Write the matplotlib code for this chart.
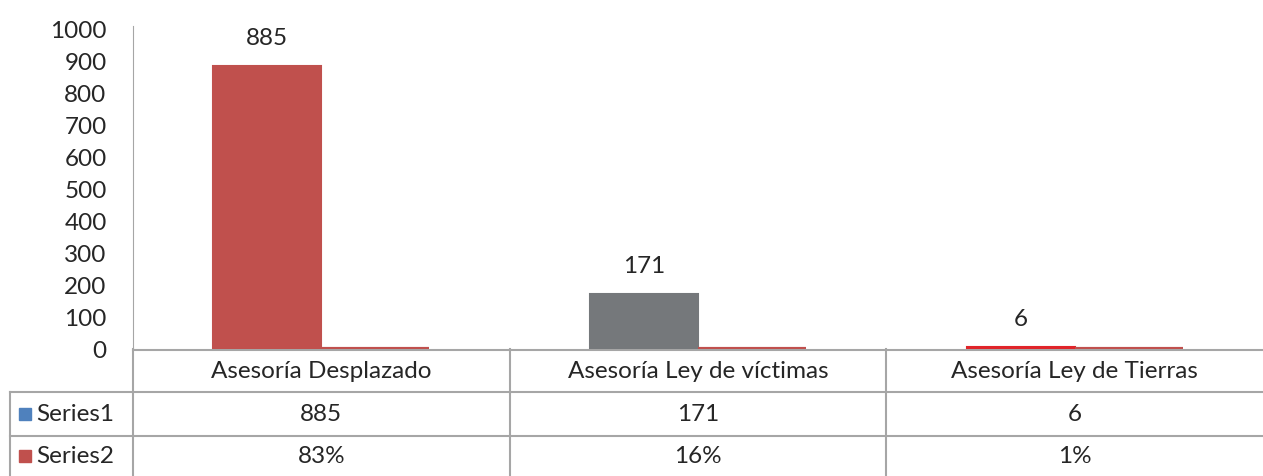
import numpy as np
import matplotlib
matplotlib.use("Agg")
import matplotlib.pyplot as plt
from matplotlib.lines import Line2D
from matplotlib.patches import Rectangle

plt.rcParams['font.family'] = ['Lato', 'DejaVu Sans']

categories = ["Asesoría Desplazado", "Asesoría Ley de víctimas", "Asesoría Ley de Tierras"]
series1 = [885, 171, 6]
series2 = [0.83, 0.16, 0.01]
series1_labels = ["885", "171", "6"]
series2_labels = ["83%", "16%", "1%"]
series_names = ["Series1", "Series2"]

s1_colors = ["#C0504D", "#75787B", "#E0242A"]
s2_color = "#C0504D"
legend_colors = ["#4F81BD", "#C0504D"]
grid_c = "#A6A6A6"
txt_c = "#262626"
fs = 17.5

W, H = 1263, 477
fig = plt.figure(figsize=(W / 100, H / 100), dpi=100)

# pixel helpers
def fx(px):
    return px / W

def fy(py):
    return 1 - py / H

ax_left, ax_right, ax_top, ax_bottom = 133, 1263, 30, 350
ax = fig.add_axes([fx(ax_left), fy(ax_bottom), fx(ax_right - ax_left), (ax_bottom - ax_top) / H])
ax.set_zorder(3)

x = np.arange(len(categories))
w = 0.287
ax.bar(x - w / 2, series1, w, color=s1_colors, edgecolor=s1_colors, linewidth=1.5)
ax.bar(x + w / 2, series2, w, color=s2_color, edgecolor=s2_color, linewidth=3)

for xi, v, lab in zip(x, series1, series1_labels):
    ax.annotate(lab, (xi - w / 2, v), xytext=(0, 13), textcoords="offset points",
                ha="center", va="bottom", fontsize=fs, color=txt_c)

ax.set_xlim(-0.5, len(categories) - 0.5)
ax.set_ylim(0, 1000)
ax.set_yticks(np.arange(0, 1001, 100))
ax.tick_params(axis="y", length=0, pad=19, labelsize=fs, labelcolor=txt_c)
ax.set_xticks([])
for s in ["top", "right", "bottom"]:
    ax.spines[s].set_visible(False)
ax.spines["left"].set_color(grid_c)
ax.spines["left"].set_bounds(0, 1010)
ax.patch.set_alpha(0)

# data table below the axis
def hline(py, x0, x1):
    fig.add_artist(Line2D([fx(x0), fx(x1)], [fy(py), fy(py)], color=grid_c, lw=1.5, zorder=1))

def vline(px, y0, y1):
    fig.add_artist(Line2D([fx(px), fx(px)], [fy(y0), fy(y1)], color=grid_c, lw=1.5, zorder=1))

rows = [350, 393, 437, 477]
col_w = (ax_right - ax_left) / len(categories)
hline(rows[0] + 1, ax_left, ax_right)
hline(rows[1], 10, ax_right)
hline(rows[2], 10, ax_right)
vline(ax_left, rows[0], rows[3])
vline(10, rows[1], rows[3])
for i in range(1, len(categories)):
    vline(ax_left + col_w * i, rows[0], rows[3])

for i, cat in enumerate(categories):
    cx = ax_left + col_w * (i + 0.5)
    fig.text(fx(cx), fy((rows[0] + rows[1]) / 2), cat, ha="center", va="center",
             fontsize=fs, color=txt_c)
    fig.text(fx(cx), fy((rows[1] + rows[2]) / 2), series1_labels[i], ha="center", va="center",
             fontsize=fs, color=txt_c)
    fig.text(fx(cx), fy((rows[2] + rows[3]) / 2), series2_labels[i], ha="center", va="center",
             fontsize=fs, color=txt_c)

for r, (name, c) in enumerate(zip(series_names, legend_colors)):
    cy = (rows[r + 1] + rows[r + 2]) / 2
    fig.add_artist(Rectangle((fx(19), fy(cy + 6)), fx(12), 12 / H, color=c))
    fig.text(fx(36), fy(cy), name, ha="left", va="center", fontsize=fs, color=txt_c)

fig.savefig("out.png", dpi=100)
